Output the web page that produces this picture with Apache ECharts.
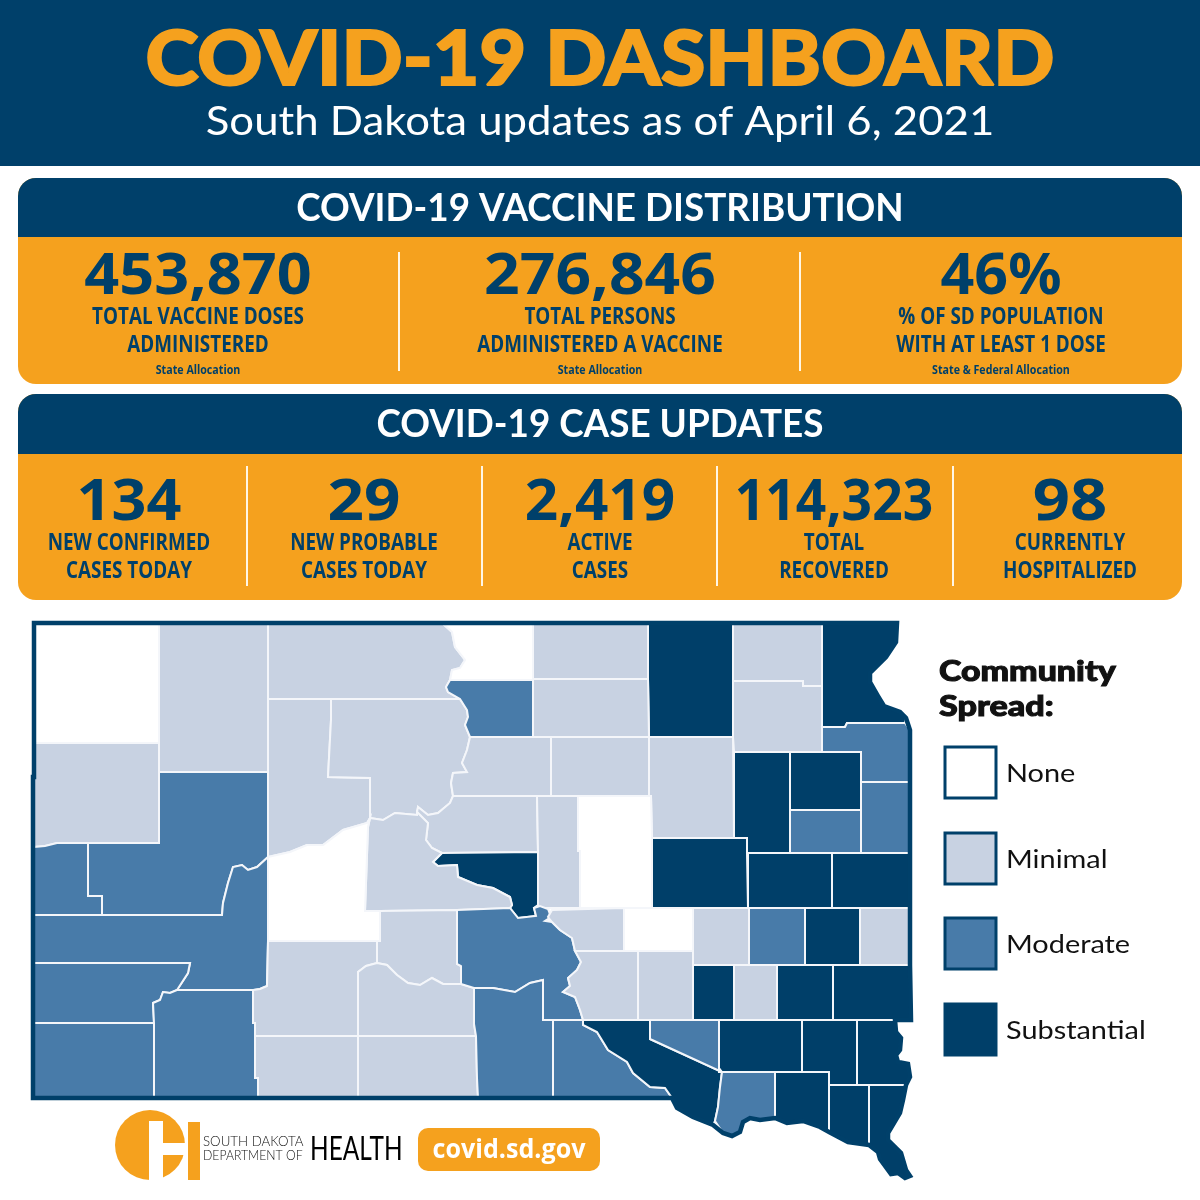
<!DOCTYPE html>
<html>
<head>
<meta charset="utf-8">
<title>COVID-19 Dashboard</title>
<script src="https://cdn.jsdelivr.net/npm/echarts@6/dist/echarts.min.js"></script>
<style>
html,body{margin:0;padding:0;background:#fff;}
#main{width:1200px;height:1200px;}
</style>
</head>
<body>
<div id="main"></div>
<script>
var vaccineValues = ["453,870", "276,846", "46%"];
var vaccineLabels = [["TOTAL VACCINE DOSES", "ADMINISTERED"], ["TOTAL PERSONS", "ADMINISTERED A VACCINE"], ["% OF SD POPULATION", "WITH AT LEAST 1 DOSE"]];
var vaccineNotes = ["State Allocation", "State Allocation", "State & Federal Allocation"];

var caseValues = ["134", "29", "2,419", "114,323", "98"];
var caseLabels = [["NEW CONFIRMED", "CASES TODAY"], ["NEW PROBABLE", "CASES TODAY"], ["ACTIVE", "CASES"], ["TOTAL", "RECOVERED"], ["CURRENTLY", "HOSPITALIZED"]];

var spreadLevels = ["None", "Minimal", "Moderate", "Substantial"];
var noneCounties = ["Harding", "Campbell", "Haakon", "Hand", "Jerauld"];
var minimalCounties = ["Perkins", "Corson", "McPherson", "Edmunds", "Marshall", "Day", "Butte", "Ziebach", "Dewey", "Potter", "Faulk", "Spink", "Sully", "Stanley", "Hyde", "Buffalo", "Brule", "Aurora", "Sanborn", "Moody", "Hanson", "Jones", "Jackson", "Mellette", "Bennett", "Todd"];
var moderateCounties = ["Walworth", "Meade", "Lawrence", "Pennington", "Custer", "Fall River", "Oglala Lakota", "Lyman", "Tripp", "Gregory", "Douglas", "Bon Homme", "Grant", "Deuel", "Hamlin", "Miner"];
var substantialCounties = ["Brown", "Roberts", "Clark", "Codington", "Beadle", "Kingsbury", "Brookings", "Lake", "Davison", "McCook", "Minnehaha", "Hutchinson", "Turner", "Lincoln", "Charles Mix", "Yankton", "Clay", "Union", "Hughes"];

// county outlines (x, y down)
var countyRings = {
    "Harding": [[34,623],[159,623],[159,743],[34,743]],
    "Perkins": [[159,623],[268,623],[268,772],[159,772]],
    "Corson": [[268,623],[442,623],[452,632],[455,647],[465,660],[460,668],[452,670],[450,680],[446,687],[448,692],[460,699],[268,699]],
    "Campbell": [[442,623],[533,623],[533,680],[450,680],[452,670],[460,668],[465,660],[455,647],[452,632]],
    "McPherson": [[533,623],[648,623],[648,679],[533,679]],
    "Brown": [[648,623],[733,623],[733,737],[649,737],[648,679]],
    "Marshall": [[733,623],[822,623],[822,686],[803,686],[803,681],[733,681]],
    "Roberts": [[822,623],[897,623],[896,642],[886,657],[870,673],[870,682],[878,696],[884,706],[900,712],[906,718],[905,723],[847,723],[845,727],[822,727]],
    "Day": [[733,681],[803,681],[803,686],[822,686],[822,752],[734,752],[733,737]],
    "Grant": [[822,727],[845,727],[847,723],[905,723],[910,730],[910,782],[861,782],[861,752],[822,752]],
    "Butte": [[34,743],[159,743],[159,843],[57,843],[45,846],[34,847]],
    "Meade": [[159,772],[268,772],[268,857],[257,867],[248,870],[242,865],[233,867],[228,883],[223,903],[222,915],[102,915],[102,896],[88,896],[88,843],[159,843]],
    "Lawrence": [[34,847],[45,846],[57,843],[88,843],[88,896],[102,896],[102,915],[34,915]],
    "Pennington": [[34,915],[222,915],[223,903],[228,883],[233,867],[242,865],[248,870],[257,867],[268,857],[268,941],[267,986],[260,989],[253,990],[177,990],[188,973],[190,963],[34,963]],
    "Custer": [[34,963],[190,963],[188,973],[177,990],[170,993],[163,992],[160,1000],[153,1003],[154,1023],[34,1023]],
    "Fall River": [[34,1023],[154,1023],[154,1098],[34,1098]],
    "Oglala Lakota": [[153,1003],[160,1000],[163,992],[170,993],[177,990],[253,990],[253,1023],[255,1023],[255,1078],[258,1078],[258,1098],[154,1098],[154,1023]],
    "Ziebach": [[268,699],[331,699],[331,720],[328,777],[370,778],[370,818],[367,823],[343,830],[323,845],[307,845],[290,852],[268,857]],
    "Dewey": [[331,699],[460,699],[467,710],[468,717],[465,725],[470,737],[467,750],[462,763],[467,772],[453,773],[451,783],[453,796],[450,803],[438,813],[428,815],[418,807],[417,815],[395,813],[383,820],[370,818],[370,778],[328,777],[331,720]],
    "Walworth": [[450,680],[533,680],[533,737],[470,737],[465,725],[468,717],[467,710],[460,699],[448,692],[446,687]],
    "Edmunds": [[533,679],[648,679],[649,737],[533,737]],
    "Potter": [[470,737],[551,737],[551,796],[453,796],[451,783],[453,773],[467,772],[462,763],[467,750]],
    "Faulk": [[551,737],[649,737],[649,796],[551,796]],
    "Spink": [[649,737],[733,737],[734,838],[652,838],[651,796],[649,796]],
    "Clark": [[734,752],[790,752],[790,853],[747,853],[747,838],[734,838]],
    "Codington": [[790,752],[861,752],[861,810],[790,810]],
    "Hamlin": [[790,810],[861,810],[861,853],[790,853]],
    "Deuel": [[861,782],[910,782],[910,853],[861,853]],
    "Sully": [[453,796],[537,796],[538,852],[442,853],[432,848],[426,840],[428,823],[417,812],[418,807],[428,815],[438,813],[450,803]],
    "Hyde": [[537,796],[578,796],[578,851],[580,851],[580,908],[538,908],[538,852]],
    "Hand": [[578,796],[651,796],[652,838],[652,908],[580,908],[580,851],[578,851]],
    "Beadle": [[652,838],[747,838],[747,853],[748,908],[652,908]],
    "Kingsbury": [[748,853],[832,853],[832,908],[748,908]],
    "Brookings": [[832,853],[910,853],[910,908],[832,908]],
    "Hughes": [[442,853],[538,852],[538,905],[534,908],[536,916],[518,918],[510,908],[512,905],[510,897],[493,888],[477,885],[458,877],[457,865],[438,866],[433,862]],
    "Stanley": [[370,818],[383,820],[395,813],[417,815],[417,812],[428,823],[426,840],[432,848],[442,853],[433,862],[438,866],[457,865],[458,877],[477,885],[493,888],[510,897],[512,905],[510,908],[457,910],[380,911],[365,911],[368,827]],
    "Haakon": [[268,857],[290,852],[307,845],[323,845],[343,830],[367,823],[370,818],[368,827],[365,911],[380,911],[380,941],[268,941]],
    "Jones": [[380,911],[457,910],[457,964],[461,966],[461,984],[443,984],[432,978],[420,985],[408,983],[397,975],[387,965],[377,963],[377,941],[380,941]],
    "Jackson": [[268,941],[377,941],[377,963],[366,966],[358,972],[358,1036],[255,1036],[255,1023],[253,1023],[253,990],[260,989],[267,986]],
    "Mellette": [[358,972],[366,966],[377,963],[387,965],[397,975],[408,983],[420,985],[432,978],[443,984],[461,984],[474,988],[474,1024],[476,1036],[358,1036]],
    "Bennett": [[255,1036],[358,1036],[358,1098],[258,1098],[258,1078],[255,1078]],
    "Todd": [[358,1036],[476,1036],[477,1078],[478,1098],[358,1098]],
    "Lyman": [[457,910],[510,908],[518,918],[536,916],[534,908],[540,906],[548,909],[551,917],[545,921],[552,922],[560,930],[572,938],[575,951],[581,962],[577,970],[568,978],[570,986],[563,992],[575,997],[580,1010],[583,1020],[543,1020],[543,980],[530,983],[515,992],[493,988],[474,988],[461,984],[461,966],[457,964]],
    "Tripp": [[474,988],[493,988],[515,992],[530,983],[543,980],[543,1020],[553,1020],[553,1098],[478,1098],[477,1078],[476,1036],[474,1024]],
    "Gregory": [[553,1020],[583,1020],[583,1025],[597,1032],[608,1050],[627,1062],[633,1073],[650,1087],[665,1088],[672,1098],[553,1098]],
    "Buffalo": [[552,910],[624,908],[624,951],[575,951],[572,938],[560,930],[552,922],[548,917]],
    "Brule": [[575,951],[638,951],[638,1020],[583,1020],[580,1010],[575,997],[563,992],[570,986],[568,978],[577,970],[581,962]],
    "Aurora": [[638,951],[693,951],[693,1020],[638,1020]],
    "Jerauld": [[624,908],[693,908],[693,951],[624,951]],
    "Sanborn": [[693,908],[749,908],[749,965],[693,965]],
    "Miner": [[749,908],[805,908],[805,965],[749,965]],
    "Lake": [[805,908],[860,908],[860,965],[805,965]],
    "Moody": [[860,908],[910,908],[910,965],[860,965]],
    "Davison": [[693,965],[734,965],[734,1020],[693,1020]],
    "Hanson": [[734,965],[777,965],[777,1020],[734,1020]],
    "McCook": [[777,965],[833,965],[833,1020],[777,1020]],
    "Minnehaha": [[833,965],[910,965],[911,1020],[833,1020]],
    "Charles Mix": [[583,1020],[650,1020],[650,1039],[722,1072],[720,1087],[718,1107],[715,1121],[713,1125],[693,1117],[677,1108],[672,1098],[665,1088],[650,1087],[633,1073],[627,1062],[608,1050],[597,1032],[583,1025]],
    "Douglas": [[650,1020],[719,1020],[719,1072],[722,1072],[650,1039]],
    "Hutchinson": [[719,1020],[802,1020],[802,1072],[722,1072],[719,1068]],
    "Turner": [[802,1020],[857,1020],[857,1085],[829,1085],[829,1072],[802,1072]],
    "Lincoln": [[857,1020],[895,1020],[896,1032],[901,1038],[900,1050],[896,1055],[898,1062],[908,1064],[910,1077],[906,1085],[857,1085]],
    "Bon Homme": [[722,1072],[775,1072],[775,1118],[760,1120],[750,1118],[743,1122],[740,1132],[732,1136],[723,1133],[715,1121],[718,1107],[720,1087]],
    "Yankton": [[775,1072],[829,1072],[829,1132],[820,1127],[803,1121],[787,1123],[775,1118]],
    "Clay": [[829,1085],[869,1085],[869,1145],[848,1142],[829,1132]],
    "Union": [[869,1085],[906,1085],[903,1100],[900,1113],[888,1133],[888,1140],[901,1153],[906,1170],[910,1176],[905,1178],[898,1173],[891,1174],[880,1159],[878,1152],[869,1145]]
};

var stateRing = [[34,623],[897,623],[896,642],[886,657],[870,673],[870,682],[878,696],[884,706],[900,712],[906,718],[910,730],[910,965],[911,1020],[895,1020],[896,1032],[901,1038],[900,1050],[896,1055],[898,1062],[908,1064],[910,1077],[906,1085],[903,1100],[900,1113],[888,1133],[888,1140],[901,1153],[906,1170],[910,1176],[905,1178],[898,1173],[891,1174],[880,1159],[878,1152],[869,1145],[848,1142],[829,1132],[820,1127],[803,1121],[787,1123],[775,1118],[760,1120],[750,1118],[743,1122],[740,1132],[732,1136],[723,1133],[713,1125],[693,1117],[677,1108],[672,1098],[33,1098],[33,777],[34,777]];

var NAVY = "#00406A";
var ORANGE = "#F5A11E";
var spreadColors = {None: "#FFFFFF", Minimal: "#C8D2E2", Moderate: "#487BA9", Substantial: "#003F69"};
var SANS = "Lato";
var LABEL = "Open Sans";
var NUM = "Noto Sans";

function feature(name, ring){
    return {
        type: "Feature",
        properties: {name: name},
        geometry: {type: "Polygon", coordinates: [ring.map(function(p){ return [p[0], -p[1]]; })]}
    };
}

var countyFeatures = [];
for(var name in countyRings){
    countyFeatures.push(feature(name, countyRings[name]));
}
echarts.registerMap("sdCounties", {type: "FeatureCollection", features: countyFeatures});
echarts.registerMap("sdState", {type: "FeatureCollection", features: [feature("South Dakota", stateRing)]});

var countyData = [];
[noneCounties, minimalCounties, moderateCounties, substantialCounties].forEach(function(list, i){
    list.forEach(function(c){
        countyData.push({name: c, value: i, itemStyle: {areaColor: spreadColors[spreadLevels[i]]}});
    });
});

// same frame for both maps so the outline sits on the counties
var xs = stateRing.map(function(p){ return p[0]; });
var ys = stateRing.map(function(p){ return p[1]; });
var minX = Math.min.apply(null, xs), maxX = Math.max.apply(null, xs);
var minY = Math.min.apply(null, ys), maxY = Math.max.apply(null, ys);
var mapFrame = {
    left: minX, top: minY, width: maxX - minX, height: maxY - minY,
    aspectScale: 1, roam: false, silent: true,
    boundingCoords: [[minX, -minY], [maxX, -maxY]],
    label: {show: false},
    emphasis: {disabled: true},
    select: {disabled: true}
};

function txt(x, y, str, size, family, weight, color, sx, align, bold){
    var st = {text: str, fontSize: size, fontFamily: family, fontWeight: weight, fill: color, align: align || "center", verticalAlign: "middle"};
    if(bold){
        st.stroke = color;
        st.lineWidth = bold;
    }
    return {type: "text", x: x, y: y, scaleX: sx || 1, style: st};
}
function box(x, y, w, h, r, color){
    return {type: "rect", shape: {x: x, y: y, width: w, height: h, r: r}, style: {fill: color}};
}
function vline(x, y1, y2){
    return {type: "line", shape: {x1: x, y1: y1, x2: x, y2: y2}, style: {stroke: "#FFF6E5", lineWidth: 2}};
}

var g = [];
// header
g.push(box(0, 0, 1200, 166, 0, NAVY));
g.push(txt(600, 60, "COVID-19 DASHBOARD", 77, SANS, 900, ORANGE, 1.045, "center", 2));
g.push(txt(600, 122, "South Dakota updates as of April 6, 2021", 40, SANS, 400, "#FFFFFF", 1.093));

// vaccine panel
g.push(box(18, 178, 1164, 206, 18, ORANGE));
g.push(box(18, 178, 1164, 59, [18, 18, 0, 0], NAVY));
g.push(txt(600, 209, "COVID-19 VACCINE DISTRIBUTION", 38, SANS, 700, "#FFFFFF", 0.97));
var vaccineCenters = [198, 600, 1001];
var vaccineScale = [1.055, 1.075, 1.02];
vaccineValues.forEach(function(v, i){
    var cx = vaccineCenters[i];
    g.push(txt(cx, 277, v, 58, NUM, 700, NAVY, vaccineScale[i]));
    g.push(txt(cx, 317, vaccineLabels[i][0], 24, LABEL, 700, NAVY, 0.785));
    g.push(txt(cx, 345, vaccineLabels[i][1], 24, LABEL, 700, NAVY, 0.785));
    g.push(txt(cx, 370, vaccineNotes[i], 13, LABEL, 700, NAVY, 0.82));
});
g.push(vline(399, 252, 371));
g.push(vline(800, 252, 371));

// case panel
g.push(box(18, 394, 1164, 206, 18, ORANGE));
g.push(box(18, 394, 1164, 60, [18, 18, 0, 0], NAVY));
g.push(txt(600, 425, "COVID-19 CASE UPDATES", 38, SANS, 700, "#FFFFFF", 0.97));
var caseCenters = [129, 364, 600, 834, 1070];
var caseScale = [1.054, 1.10, 1.008, 0.92, 1.122];
caseValues.forEach(function(v, i){
    var cx = caseCenters[i];
    g.push(txt(cx, 503, v, 58, NUM, 700, NAVY, caseScale[i]));
    g.push(txt(cx, 543, caseLabels[i][0], 24, LABEL, 700, NAVY, 0.785));
    g.push(txt(cx, 571, caseLabels[i][1], 24, LABEL, 700, NAVY, 0.785));
});
[247, 482, 717, 953].forEach(function(x){ g.push(vline(x, 466, 586)); });

// legend
g.push(txt(939, 672, "Community", 28, SANS, 900, "#111111", 1.21, "left", 1));
g.push(txt(939, 707, "Spread:", 28, SANS, 900, "#111111", 1.22, "left", 1));
var legendTops = [747, 833, 918, 1004];
spreadLevels.forEach(function(level, i){
    g.push({type: "rect", shape: {x: 945, y: legendTops[i], width: 51, height: 51}, style: {fill: spreadColors[level], stroke: NAVY, lineWidth: 3}});
    g.push(txt(1006, legendTops[i] + 27, level, 25, SANS, 400, "#111111", 1.155, "left"));
});

// logo
g.push({type: "circle", shape: {cx: 150, cy: 1145, r: 35}, style: {fill: ORANGE}});
g.push(box(149, 1121, 14, 60, 0, "#FFFFFF"));
g.push(box(163, 1143, 25, 12, 0, "#FFFFFF"));
g.push(box(185, 1110, 3, 70, 0, "#FFFFFF"));
g.push(box(188, 1122, 12, 58, 0, ORANGE));
g.push(txt(203, 1141, "SOUTH DAKOTA", 14, SANS, 300, "#111111", 0.95, "left"));
g.push(txt(203, 1155, "DEPARTMENT OF", 14, SANS, 300, "#111111", 0.875, "left"));
g.push(txt(310, 1149, "HEALTH", 33, SANS, 400, "#000000", 0.74, "left"));
g.push(box(418, 1128, 182, 43, 10, ORANGE));
g.push(txt(509, 1150, "covid.sd.gov", 27, "Open Sans", 700, "#FFFFFF", 0.93));

var myChart = echarts.init(document.getElementById("main"), null, {renderer: "canvas"});
myChart.setOption({
    animation: false,
    backgroundColor: "#FFFFFF",
    series: [
        Object.assign({}, mapFrame, {
            type: "map", map: "sdCounties", z: 2,
            data: countyData,
            itemStyle: {areaColor: "#FFFFFF", borderColor: "#F4F6FA", borderWidth: 2}
        }),
        Object.assign({}, mapFrame, {
            type: "map", map: "sdState", z: 3,
            data: [],
            itemStyle: {areaColor: "rgba(0,0,0,0)", borderColor: NAVY, borderWidth: 4.5}
        })
    ],
    graphic: g
});
</script>
</body>
</html>
